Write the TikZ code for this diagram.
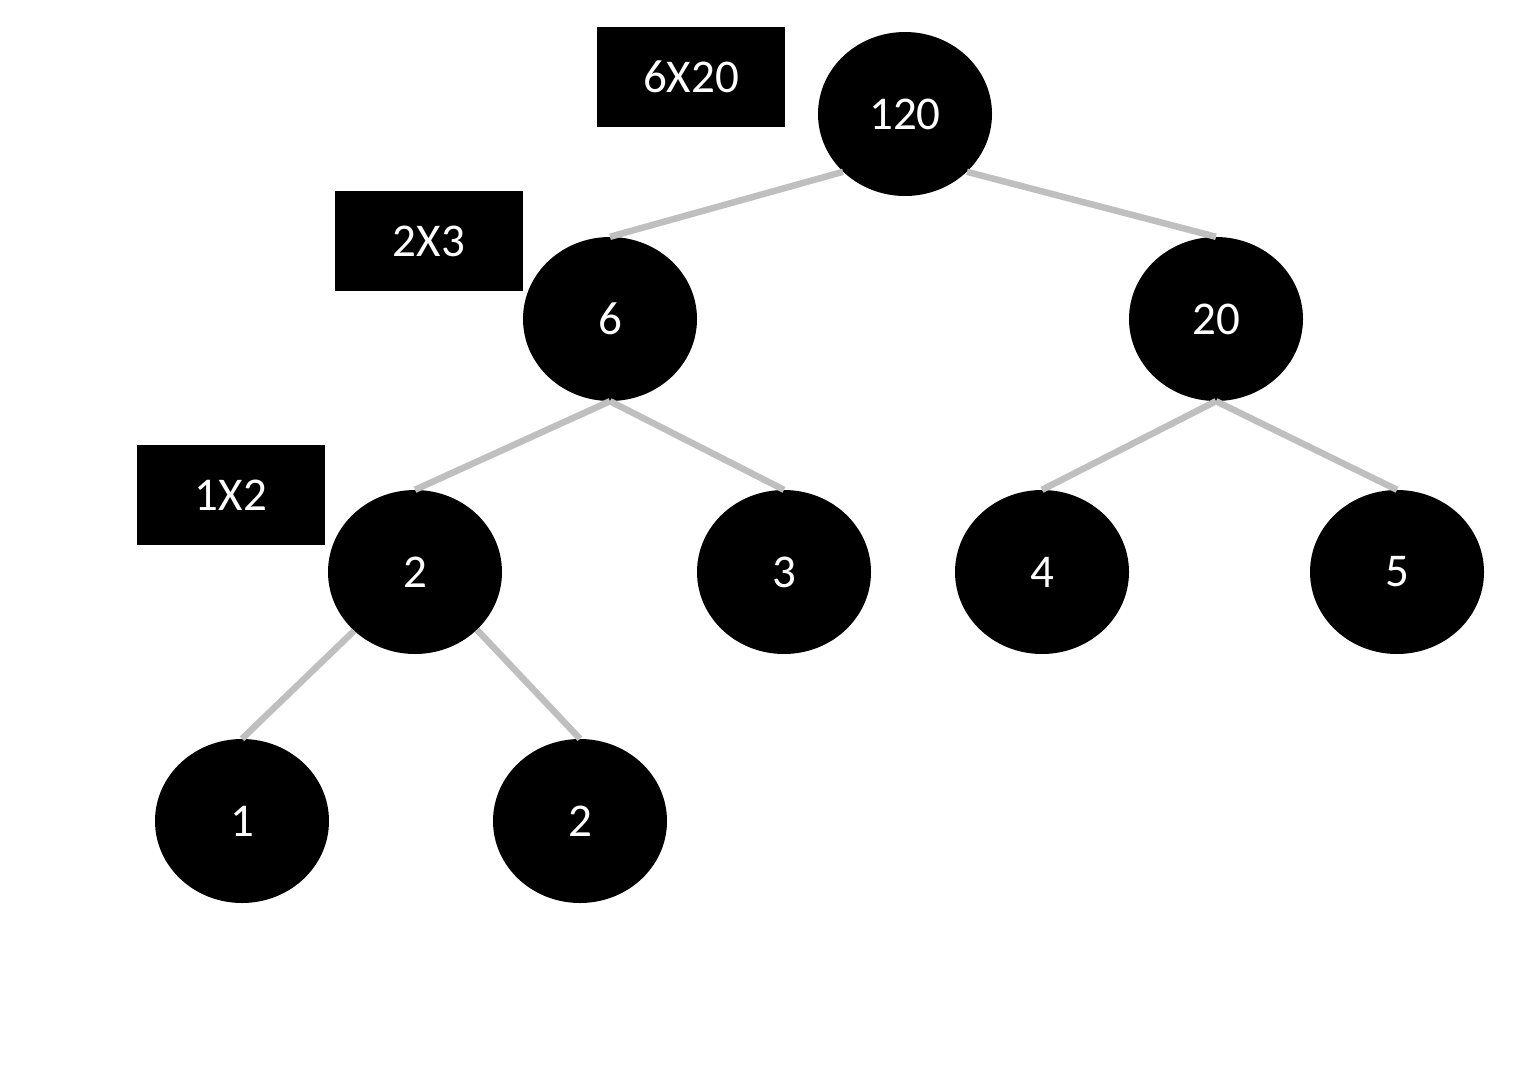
\documentclass[tikz,border=0pt]{standalone}
\usepackage{fontspec}
\setmainfont{Carlito}
\usetikzlibrary{shapes.geometric}
\definecolor{edgegray}{HTML}{BFBFBF}
\begin{document}
\begin{tikzpicture}[x=1pt,y=-1pt,
  tnode/.style={ellipse,fill=black,text=white,minimum width=174pt,minimum height=164pt,inner sep=0pt,font=\fontsize{47}{50}\selectfont},
  calcbox/.style={rectangle,fill=black,text=white,minimum width=188pt,minimum height=100pt,inner sep=0pt,font=\fontsize{47}{50}\selectfont},
  edge/.style={draw=edgegray,line width=6.5pt}]
\useasboundingbox (0,0) rectangle (1534,1066);
\node[calcbox] (b1) at (691,77) {6X20};
\node[calcbox] (b2) at (429,241) {2X3};
\node[calcbox] (b3) at (231,495) {1X2};
\node[tnode] (n120) at (905,114) {120};
\node[tnode] (n6) at (610,319) {6};
\node[tnode] (n20) at (1216,319) {20};
\node[tnode] (n2) at (415,572) {2};
\node[tnode] (n3) at (784,572) {3};
\node[tnode] (n4) at (1042,572) {4};
\node[tnode] (n5) at (1397,572) {5};
\node[tnode] (n1) at (242,821) {1};
\node[tnode] (n2b) at (580,821) {2};
\draw[edge] (n120.223) -- (n6.north);
\draw[edge] (n120.317) -- (n20.north);
\draw[edge] (n6.south) -- (n2.north);
\draw[edge] (n6.south) -- (n3.north);
\draw[edge] (n20.south) -- (n4.north);
\draw[edge] (n20.south) -- (n5.north);
\draw[edge] (n2.224) -- (n1.north);
\draw[edge] (n2.317) -- (n2b.north);
\end{tikzpicture}
\end{document}
